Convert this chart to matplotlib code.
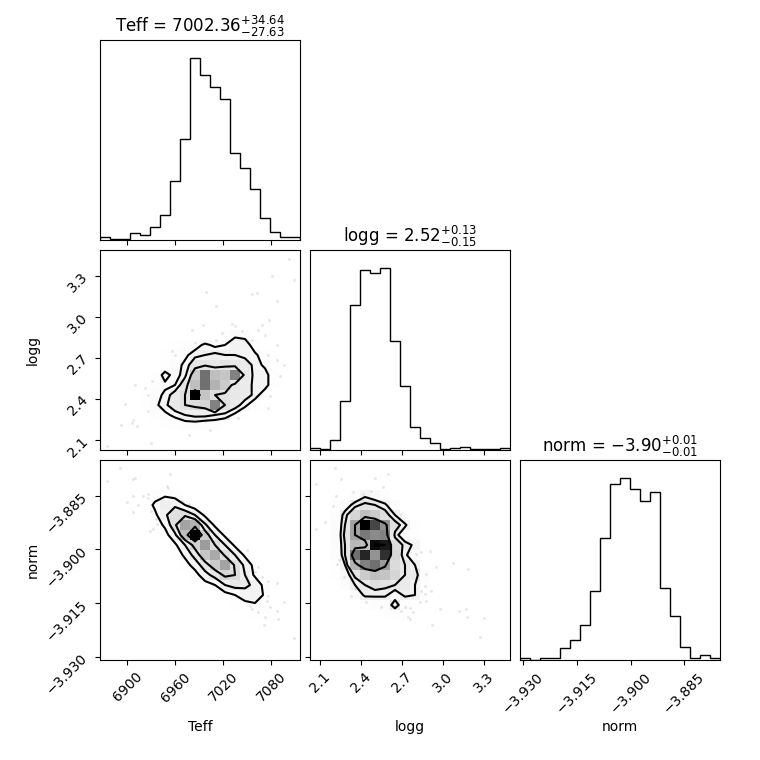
import numpy as np
import matplotlib
matplotlib.use("Agg")
import matplotlib.pyplot as plt
from matplotlib.colors import LinearSegmentedColormap

labels = ["Teff", "logg", "norm"]
ranges = [(6865.9, 7116.0), (2.025, 3.488), (-3.9309, -3.8750)]
titles = [r"Teff = $7002.36_{-27.63}^{+34.64}$",
          r"logg = $2.52_{-0.15}^{+0.13}$",
          r"norm = $-3.90_{-0.01}^{+0.01}$"]
ticks = [[6900, 6960, 7020, 7080],
         [2.1, 2.4, 2.7, 3.0, 3.3],
         [-3.930, -3.915, -3.900, -3.885]]
ticklabels = [["6900", "6960", "7020", "7080"],
              ["2.1", "2.4", "2.7", "3.0", "3.3"],
              ["\u22123.930", "\u22123.915", "\u22123.900", "\u22123.885"]]
nbins = 20

# 1d histogram heights (20 bins each)
teff_hist = [8, 2, 2, 20, 14, 38, 76, 176, 302, 545, 494, 458, 423, 262, 215, 153, 65, 25, 8, 8]
logg_hist = [7, 2, 30, 147, 434, 539, 530, 545, 327, 193, 68, 35, 22, 4, 6, 9, 4, 4, 2, 6]
norm_hist = [5, 1, 7, 7, 35, 59, 105, 207, 365, 528, 544, 511, 476, 504, 214, 131, 39, 7, 14, 7]

# 2d counts, row counted from the top of the panel -> (first column, counts)
teff_logg_cells = {
    8: (12, [3, 5, 4]),
    9: (7, [2, 3, 4, 7, 5, 6, 9, 9, 3]),
    10: (6, [2, 3, 5, 8, 9, 10, 9, 9, 8, 7, 3]),
    11: (6, [2, 4, 7, 12, 13, 12, 13, 12, 11, 8, 5]),
    12: (5, [2, 8, 4, 8, 18, 30, 20, 19, 28, 12, 8, 8, 2]),
    13: (5, [3, 5, 6, 12, 20, 30, 22, 18, 12, 11, 8, 8, 2]),
    14: (4, [2, 4, 7, 11, 14, 40, 19, 14, 13, 12, 11, 8, 3]),
    15: (4, [2, 5, 8, 12, 14, 15, 16, 28, 14, 11, 7, 3]),
    16: (5, [3, 5, 7, 9, 10, 10, 9, 8, 5, 2]),
    17: (6, [2, 3, 4, 4, 3, 3, 2]),
}
teff_norm_cells = {
    3: (5, [3, 4, 3, 2]),
    4: (4, [2, 6, 10, 9, 5, 2]),
    5: (5, [4, 9, 14, 14, 10, 4]),
    6: (5, [2, 6, 14, 24, 22, 11, 4]),
    7: (6, [3, 9, 20, 40, 18, 10, 4]),
    8: (7, [4, 10, 17, 25, 15, 10, 4]),
    9: (7, [2, 6, 12, 19, 23, 14, 10, 4]),
    10: (8, [3, 7, 13, 18, 24, 14, 9, 3]),
    11: (9, [3, 8, 12, 16, 15, 10, 4]),
    12: (10, [3, 5, 10, 12, 11, 9, 3]),
    13: (12, [3, 5, 8, 9, 4]),
    14: (13, [2, 3, 4, 3]),
    15: (15, [2, 2]),
}
logg_norm_cells = {
    3: (4, [4, 8, 6, 3]),
    4: (2, [2, 6, 11, 13, 12, 10, 4]),
    5: (2, [3, 11, 16, 20, 18, 14, 9, 3]),
    6: (2, [4, 12, 24, 40, 34, 26, 14, 10, 3]),
    7: (2, [4, 13, 24, 29, 27, 28, 11, 5, 2]),
    8: (2, [4, 12, 21, 20, 39, 38, 15, 11, 8]),
    9: (2, [3, 12, 30, 37, 26, 36, 16, 10, 5]),
    10: (2, [2, 9, 22, 28, 30, 25, 15, 12, 9]),
    11: (2, [1, 6, 13, 18, 20, 19, 16, 12, 11, 4]),
    12: (3, [4, 9, 12, 14, 13, 12, 11, 9, 3]),
    13: (4, [5, 10, 10, 10, 6, 10, 9, 2]),
    14: (5, [3, 4, 4, 12, 4, 3]),
    15: (7, [2, 3, 2]),
}

# loose samples outside the contours
teff_pts = [7102.6, 7081.3, 7108.8, 6998.4, 7055.5, 7061.7, 7087.6, 7010.5, 6994.2, 7031.3,
            7018.0, 7034.7, 7068.0, 7063.8, 7077.6, 6984.6, 6981.3, 7010.9, 6955.5, 6959.7,
            7076.3, 7086.7, 7096.3, 7074.2, 7061.7, 7068.0, 7063.8, 7078.4, 7076.3, 7051.3,
            7038.8, 6931.3, 6922.2, 6909.7, 6926.3, 6936.7, 6926.3, 6907.6, 6905.5, 6912.6,
            6892.2, 6897.2, 6874.2, 6929.7, 6977.6, 6997.2, 7026.3, 6947.1, 6940.9, 6963.8,
            7003.4, 7090.9, 7086.7, 7055.5, 7043.0, 7072.1]
logg_pts_a = [3.424, 3.300, 3.271, 3.180, 3.166, 3.173, 3.112, 3.076, 2.941, 2.946,
              2.880, 2.929, 2.941, 2.905, 2.978, 2.807, 2.905, 2.832, 2.746, 2.722,
              2.722, 2.685, 2.649, 2.576, 2.600, 2.502, 2.446, 2.417, 2.332, 2.381,
              2.259, 2.532, 2.478, 2.502, 2.429, 2.356, 2.307, 2.246, 2.222, 2.198,
              2.210, 2.361, 2.051, 2.076, 2.137, 2.234, 2.259, 2.381, 2.332, 2.259,
              2.173, 2.563, 2.795, 2.832, 2.893, 2.868]

teff_pts_b = [6890.9, 6875.1, 6906.7, 6909.7, 6953.4, 6949.2, 6951.3, 6907.6, 6920.1, 6925.5,
              6926.3, 6913.0, 6899.2, 6907.6, 6929.7, 6932.6, 6928.4, 6935.5, 6936.7, 6955.5,
              7049.2, 7063.8, 7059.7, 7068.0, 7086.7, 7075.5, 7076.3, 7065.9, 7074.2, 7055.5,
              7063.8, 7078.4, 7072.1, 7086.7, 7088.8, 7096.3, 7053.4, 7070.9, 7108.8, 7015.9,
              7038.8, 7031.3, 6977.6, 6968.0]
norm_pts_b = [-3.87726, -3.88098, -3.88033, -3.88005, -3.87894, -3.88220, -3.88294, -3.88499,
              -3.88499, -3.88452, -3.88573, -3.88760, -3.88685, -3.88964, -3.88918, -3.89430,
              -3.89477, -3.89151, -3.89290, -3.88545, -3.90017, -3.90501, -3.90640, -3.90780,
              -3.90948, -3.90873, -3.91292, -3.91339, -3.91432, -3.91665, -3.91758, -3.91618,
              -3.91897, -3.91711, -3.91944, -3.91478, -3.91572, -3.92111, -3.92475, -3.91106,
              -3.91153, -3.91199, -3.88732, -3.88638]

logg_pts_c = [2.205, 2.071, 2.249, 2.497, 2.595, 2.558, 2.473, 2.217, 2.339, 2.412,
              2.193, 2.132, 2.071, 2.571, 2.619, 2.693, 2.224, 2.237, 2.273, 2.322,
              2.351, 2.437, 2.541, 2.644, 2.717, 2.754, 2.827, 2.863, 2.802, 2.839,
              2.900, 2.815, 2.875, 2.949, 3.071, 3.180, 2.863, 2.912, 2.839, 2.875,
              2.973, 3.114, 3.168, 3.175, 3.297, 2.919, 2.754, 2.778, 3.266, 2.741, 2.693]
norm_pts_c = [-3.87726, -3.88173, -3.88033, -3.88005, -3.87894, -3.88266, -3.88359, -3.88499,
              -3.88406, -3.88452, -3.88778, -3.89244, -3.89430, -3.88871, -3.88964, -3.89011,
              -3.90408, -3.90296, -3.90780, -3.91292, -3.91106, -3.91478, -3.91618, -3.91432,
              -3.91618, -3.91637, -3.91478, -3.91246, -3.90128, -3.90082, -3.90054, -3.90547,
              -3.90687, -3.90501, -3.90389, -3.90547, -3.91013, -3.91153, -3.91153, -3.91432,
              -3.91665, -3.91711, -3.91665, -3.91897, -3.91925, -3.92102, -3.91944, -3.91758,
              -3.92456, -3.91897, -3.91711]

hists = [teff_hist, logg_hist, norm_hist]
pairs = {(1, 0): (teff_logg_cells, teff_pts, logg_pts_a),
         (2, 0): (teff_norm_cells, teff_pts_b, norm_pts_b),
         (2, 1): (logg_norm_cells, logg_pts_c, norm_pts_c)}


def build_grid(cells):
    H = np.zeros((nbins, nbins))
    for row, (c0, vals) in cells.items():
        for k, v in enumerate(vals):
            H[c0 + k, nbins - 1 - row] = v
    return H


def hist2d(ax, H, xr, yr, xp, yp):
    X = np.linspace(xr[0], xr[1], nbins + 1)
    Y = np.linspace(yr[0], yr[1], nbins + 1)
    levels = 1.0 - np.exp(-0.5 * np.arange(0.5, 2.1, 0.5) ** 2)
    Hflat = H.flatten()
    Hflat = Hflat[np.argsort(Hflat)[::-1]]
    sm = np.cumsum(Hflat)
    sm /= sm[-1]
    V = np.empty(len(levels))
    for i, v0 in enumerate(levels):
        try:
            V[i] = Hflat[sm <= v0][-1]
        except IndexError:
            V[i] = Hflat[0]
    V.sort()
    m = np.diff(V) == 0
    while np.any(m):
        V[np.where(m)[0][0]] *= 1.0 - 1e-4
        m = np.diff(V) == 0
    V.sort()

    X1, Y1 = 0.5 * (X[1:] + X[:-1]), 0.5 * (Y[1:] + Y[:-1])
    H2 = H.min() + np.zeros((H.shape[0] + 4, H.shape[1] + 4))
    H2[2:-2, 2:-2] = H
    H2[2:-2, 1] = H[:, 0]
    H2[2:-2, -2] = H[:, -1]
    H2[1, 2:-2] = H[0]
    H2[-2, 2:-2] = H[-1]
    H2[1, 1] = H[0, 0]
    H2[1, -2] = H[0, -1]
    H2[-2, 1] = H[-1, 0]
    H2[-2, -2] = H[-1, -1]
    X2 = np.concatenate([X1[0] + np.array([-2, -1]) * np.diff(X1[:2]), X1,
                         X1[-1] + np.array([1, 2]) * np.diff(X1[-2:])])
    Y2 = np.concatenate([Y1[0] + np.array([-2, -1]) * np.diff(Y1[:2]), Y1,
                         Y1[-1] + np.array([1, 2]) * np.diff(Y1[-2:])])

    ax.plot(xp, yp, "o", color="k", ms=2.0, mec="none", alpha=0.1, zorder=-1)
    white = LinearSegmentedColormap.from_list("white_cmap", [(1, 1, 1), (1, 1, 1)], N=2)
    ax.contourf(X2, Y2, H2.T, [V.min(), H.max()], cmap=white, antialiased=False)
    dens = LinearSegmentedColormap.from_list("density_cmap", ["k", (1, 1, 1, 0)])
    ax.pcolormesh(X, Y, H.max() - H.T, cmap=dens)
    ax.contour(X2, Y2, H2.T, V, colors="k")
    ax.set_xlim(xr)
    ax.set_ylim(yr)


fig, axes = plt.subplots(3, 3, figsize=(7.6, 7.6), dpi=100)
fig.subplots_adjust(left=1 / 7.6, bottom=1 / 7.6, right=7.2 / 7.6, top=7.2 / 7.6,
                    wspace=0.05, hspace=0.05)

for i in range(3):
    for j in range(3):
        ax = axes[i, j]
        if j > i:
            ax.set_frame_on(False)
            ax.set_xticks([])
            ax.set_yticks([])
            continue
        if i == j:
            edges = np.linspace(ranges[i][0], ranges[i][1], nbins + 1)
            ax.stairs(hists[i], edges, color="k", linewidth=1.0)
            ax.set_xlim(ranges[i])
            ax.set_ylim(0, 1.1 * max(hists[i]))
            ax.set_yticks([])
            ax.set_title(titles[i], fontsize=12)
        else:
            cells, xp, yp = pairs[(i, j)]
            hist2d(ax, build_grid(cells), ranges[j], ranges[i], xp, yp)
            ax.set_yticks(ticks[i])
            if j == 0:
                ax.set_yticklabels(ticklabels[i], rotation=45)
                ax.set_ylabel(labels[i])
                ax.yaxis.set_label_coords(-0.3, 0.5)
            else:
                ax.set_yticklabels([])
        ax.set_xticks(ticks[j])
        if i == 2:
            ax.set_xticklabels(ticklabels[j], rotation=45)
            ax.set_xlabel(labels[j])
            ax.xaxis.set_label_coords(0.5, -0.3)
        else:
            ax.set_xticklabels([])

fig.savefig("out.png", dpi=100)
